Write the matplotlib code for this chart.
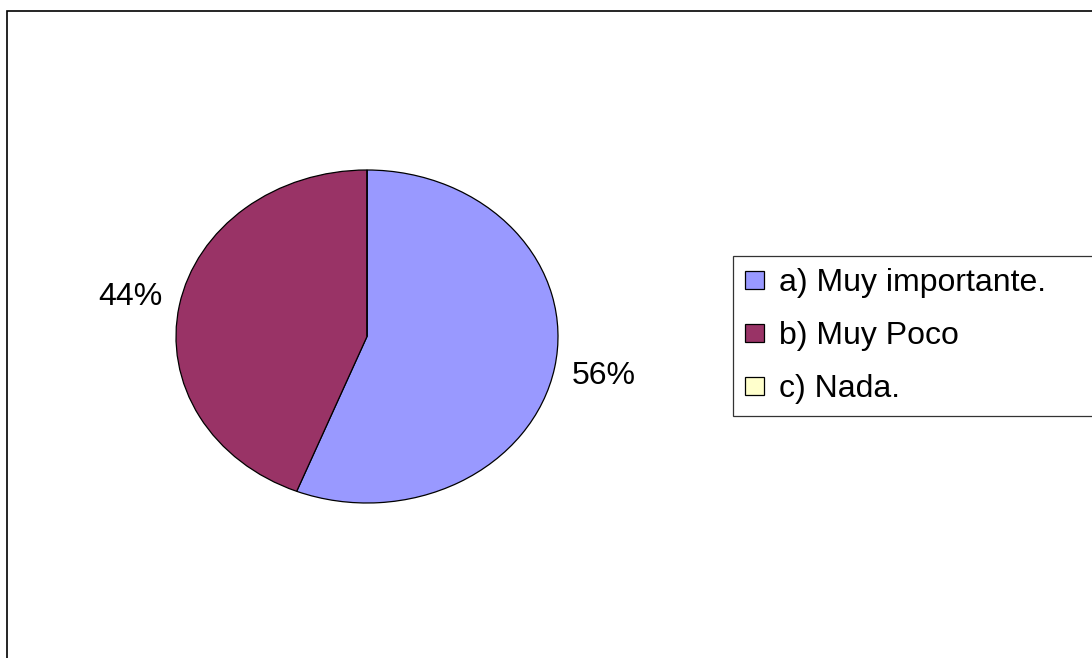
import matplotlib.pyplot as plt
from matplotlib.patches import Rectangle

plt.rcParams['font.family'] = ['Liberation Sans', 'DejaVu Sans']

# Chart data
labels = ['a) Muy importante.', 'b) Muy Poco', 'c) Nada.']
values = [56, 44, 0]
colors = ['#9999FF', '#993366', '#FFFFCC']

W, H = 1092, 658
fig = plt.figure(figsize=(W / 100, H / 100), dpi=100)

# Outer chart border (runs off the right and bottom edges)
fig.patches.append(Rectangle((7 / W, -0.1), 1.2, (H - 11) / H + 0.1,
                             transform=fig.transFigure, fill=False,
                             edgecolor='black', linewidth=1.2))

# Axes placed so the unit pie becomes the ellipse
ax = fig.add_axes([176 / W, (H - 503) / H, 382 / W, 333 / H])


def pct(p):
    return '%d%%' % round(p) if p > 0 else ''


wedges, texts, autotexts = ax.pie(values, colors=colors, startangle=90,
                                  counterclock=False, autopct=pct,
                                  pctdistance=1.26,
                                  wedgeprops=dict(edgecolor='black', linewidth=0.9),
                                  textprops=dict(fontsize=23, color='black'))
ax.set_aspect('auto')
ax.set_xlim(-1, 1)
ax.set_ylim(-1, 1)
ax.axis('off')

# Legend, its frame runs off the right edge
leg = fig.legend(wedges, labels, loc='upper left',
                 bbox_to_anchor=(733 / W, (H - 256) / H - 0.01, 0.5, 0.01),
                 mode='expand', fontsize=23, frameon=True, fancybox=False,
                 handlelength=0.6, handleheight=0.5, handletextpad=0.45,
                 labelspacing=0.72, borderpad=0.38, borderaxespad=0)
leg.get_frame().set_edgecolor('black')
leg.get_frame().set_linewidth(0.9)

fig.savefig('out.png', dpi=100)
